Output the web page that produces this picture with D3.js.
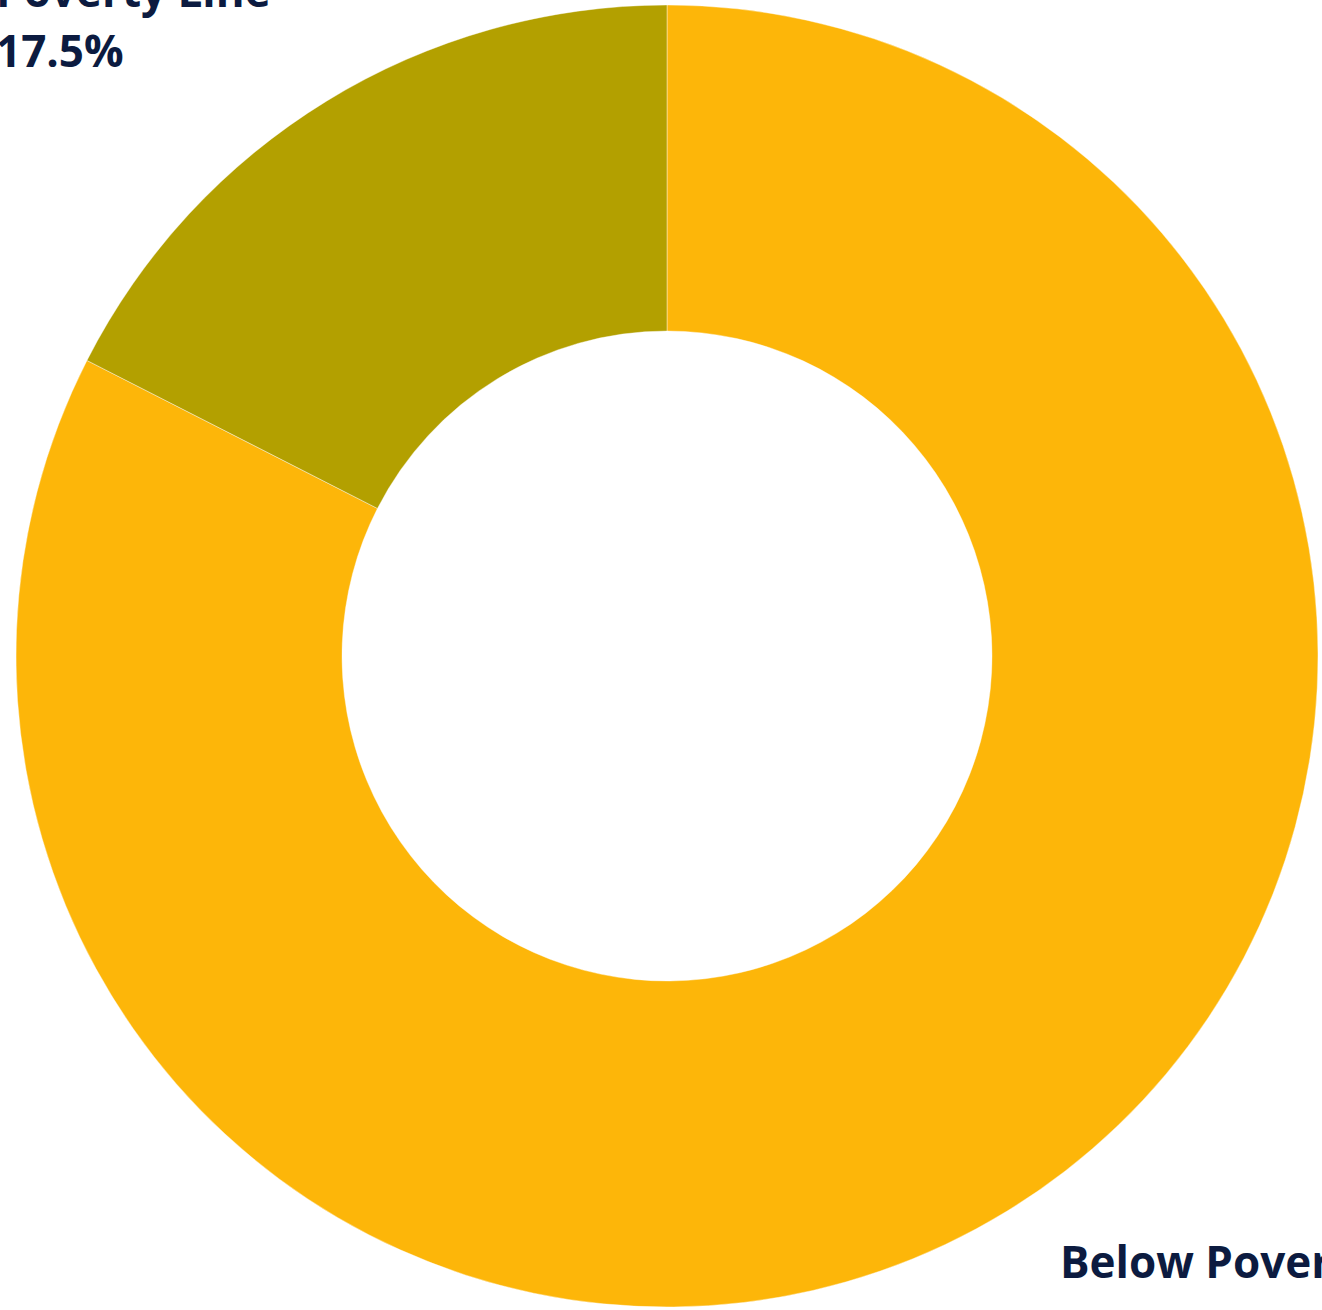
<!DOCTYPE html>
<html>
<head>
<meta charset="utf-8">
<script src="https://cdn.jsdelivr.net/npm/d3@7"></script>
<style>
    html, body { margin: 0; padding: 0; background: #ffffff; overflow: hidden; }
    .sliceLabel { font-family: "Open Sans", sans-serif; font-weight: 700; font-size: 44px; fill: #0c1b40; }
</style>
</head>
<body>
<div id="donut"></div>
<script>
// Chart values
var categories = ["Below Poverty Line", "Above Poverty Line"];
var shares = [82.5, 17.5];
var labelText = ["82.5%", "17.5%"];

var svgWidth = 1322;
var svgHeight = 1310;
var cx = 667;
var cy = 656;
var outerRadius = 651;
var innerRadius = 325;

var colors = d3.scaleOrdinal()
    .domain(categories)
    .range(["#fdb609", "#b3a000"]);

var svg = d3.select("#donut").append("svg")
    .attr("width", svgWidth)
    .attr("height", svgHeight);

var chartGroup = svg.append("g")
    .attr("transform", `translate(${cx}, ${cy})`);

var slices = categories.map((c, i) => ({ name: c, value: shares[i], label: labelText[i] }));

var pie = d3.pie()
    .sort(null)
    .value(d => d.value);

var arc = d3.arc()
    .innerRadius(innerRadius)
    .outerRadius(outerRadius);

chartGroup.selectAll("path")
    .data(pie(slices))
    .enter()
    .append("path")
    .attr("d", arc)
    .attr("fill", d => colors(d.data.name))
    .attr("stroke", "#ffffff")
    .attr("stroke-opacity", 0.4)
    .attr("stroke-width", 1);

// Labels sit outside the ring, partly off the page like the original
var labelPos = [
    { x: 393, y: 622 },
    { x: -671, y: -589 }
];

var labels = chartGroup.selectAll("text.sliceLabel")
    .data(slices)
    .enter()
    .append("text")
    .classed("sliceLabel", true)
    .attr("x", (d, i) => labelPos[i].x)
    .attr("y", (d, i) => labelPos[i].y);

labels.each(function (d, i) {
    var t = d3.select(this);
    var words = d.name.split(" ");
    // bottom label runs off to the right on one line; top one wraps upward
    var lines = i === 0 ? [d.name + " " + d.label] : [words[0], words.slice(1).join(" "), d.label];
    var startY = i === 0 ? 0 : -120;
    lines.forEach((line, j) => {
        t.append("tspan")
            .attr("x", labelPos[i].x)
            .attr("y", labelPos[i].y + startY + j * 60)
            .text(line);
    });
});
</script>
</body>
</html>
